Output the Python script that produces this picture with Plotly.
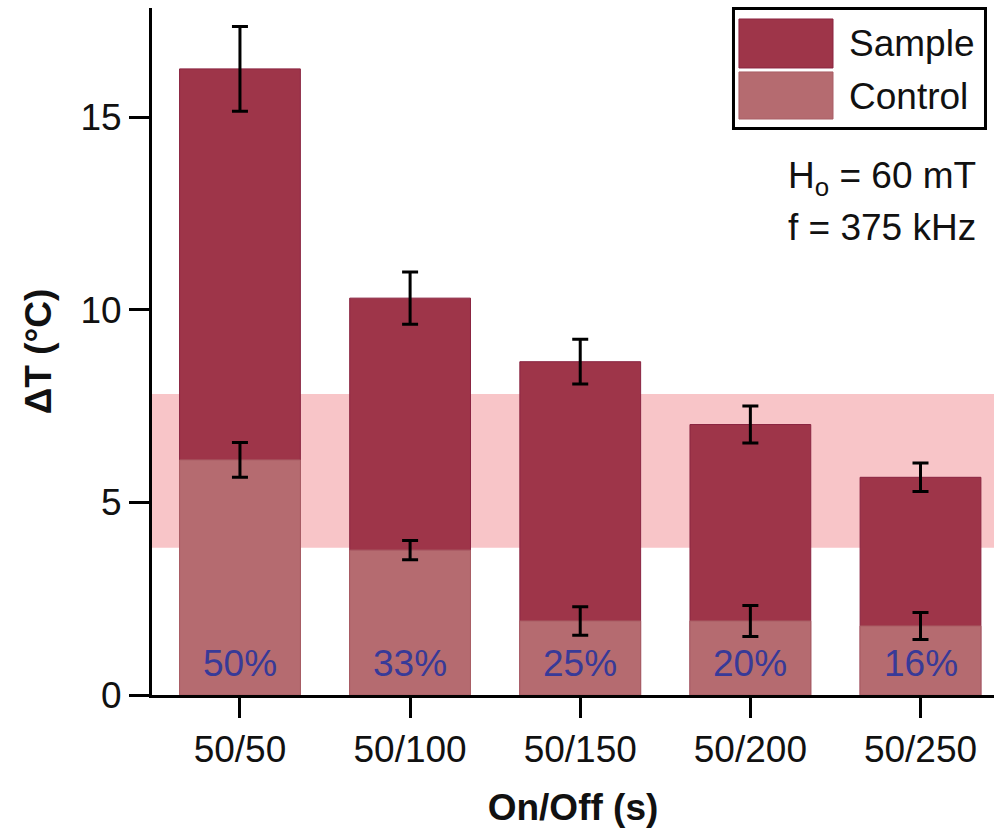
import plotly.graph_objects as go

# Heating cycles (on/off times) and measured temperature rise
cycles = ["50/50", "50/100", "50/150", "50/200", "50/250"]
sample_dt = [16.25, 10.3, 8.65, 7.02, 5.65]
sample_err = [1.1, 0.68, 0.58, 0.48, 0.37]
control_dt = [6.1, 3.76, 1.92, 1.92, 1.79]
control_err = [0.45, 0.25, 0.37, 0.4, 0.35]
duty_labels = ["50%", "33%", "25%", "20%", "16%"]

# Reference window shaded behind the bars
band_low, band_high = 3.82, 7.81

SAMPLE_COLOR = "#9e3549"
CONTROL_COLOR = "#b56b70"
BAND_COLOR = "#f8c5c8"
LABEL_COLOR = "#383a98"
FONT = "Liberation Sans, Arial, Helvetica, sans-serif"
FS = 37

err_style = dict(type="data", color="black", thickness=3, width=8)

fig = go.Figure()
fig.add_trace(go.Bar(
    x=cycles, y=sample_dt, name="Sample", width=0.71,
    marker=dict(color=SAMPLE_COLOR, line=dict(color="#8a2440", width=1)),
    error_y=dict(array=sample_err, **err_style),
))
fig.add_trace(go.Bar(
    x=cycles, y=control_dt, name="Control", width=0.71,
    marker=dict(color=CONTROL_COLOR, line=dict(color="#a95f66", width=1)),
    error_y=dict(array=control_err, **err_style),
))

fig.add_shape(type="rect", xref="paper", yref="y", x0=0, x1=1,
              y0=band_low, y1=band_high, fillcolor=BAND_COLOR,
              line=dict(width=0), layer="below")

# Duty-cycle labels at the foot of each bar
for c, lab in zip(cycles, duty_labels):
    fig.add_annotation(x=c, y=0.83, text=lab, showarrow=False,
                       xanchor="center", yanchor="middle",
                       font=dict(family=FONT, size=FS, color=LABEL_COLOR))

# Field conditions
fig.add_annotation(xref="paper", yref="paper", x=0.981, y=0.7525,
                   text="H<sub>o</sub> = 60 mT", showarrow=False,
                   xanchor="right", yanchor="middle",
                   font=dict(family=FONT, size=FS, color="#111"))
fig.add_annotation(xref="paper", yref="paper", x=0.981, y=0.680,
                   text="f = 375 kHz", showarrow=False,
                   xanchor="right", yanchor="middle",
                   font=dict(family=FONT, size=FS, color="#111"))

# Boxed legend with large swatches
fig.add_shape(type="rect", xref="paper", yref="paper",
              x0=0.6906, x1=0.9899, y0=0.8246, y1=0.9993,
              line=dict(color="black", width=3), fillcolor="white")
fig.add_shape(type="rect", xref="paper", yref="paper",
              x0=0.6971, x1=0.8088, y0=0.9127, y1=0.9840,
              line=dict(color="#8a2440", width=1), fillcolor=SAMPLE_COLOR)
fig.add_shape(type="rect", xref="paper", yref="paper",
              x0=0.6971, x1=0.8088, y0=0.8384, y1=0.9069,
              line=dict(color="#a95f66", width=1), fillcolor=CONTROL_COLOR)
fig.add_annotation(xref="paper", yref="paper", x=0.8254, y=0.9476,
                   text="Sample", showarrow=False, xanchor="left",
                   yanchor="middle", font=dict(family=FONT, size=FS, color="#111"))
fig.add_annotation(xref="paper", yref="paper", x=0.8254, y=0.8719,
                   text="Control", showarrow=False, xanchor="left",
                   yanchor="middle", font=dict(family=FONT, size=FS, color="#111"))

fig.update_layout(
    width=994, height=835,
    margin=dict(l=152, r=0, t=8, b=140),
    barmode="overlay",
    showlegend=False,
    plot_bgcolor="white", paper_bgcolor="white",
    font=dict(family=FONT, size=FS, color="#111"),
)
fig.update_xaxes(
    range=[-0.517, 4.432], showline=True, linewidth=3, linecolor="black",
    ticks="outside", ticklen=20, tickwidth=3, tickcolor="black",
    showgrid=False, zeroline=False,
    tickfont=dict(family=FONT, size=FS, color="#111"),
    title=dict(text="On/Off (s)", standoff=25,
               font=dict(family=FONT, size=FS, color="#111", weight="bold")),
)
fig.update_yaxes(
    range=[0, 17.83], showline=True, linewidth=3, linecolor="black",
    ticks="outside", ticklen=20, tickwidth=3, tickcolor="black",
    tickvals=[0, 5, 10, 15], showgrid=False, zeroline=False,
    tickfont=dict(family=FONT, size=FS, color="#111"),
    title=dict(text="ΔT (°C)", standoff=18,
               font=dict(family=FONT, size=FS, color="#111", weight="bold")),
)

fig.write_html("out.html")
